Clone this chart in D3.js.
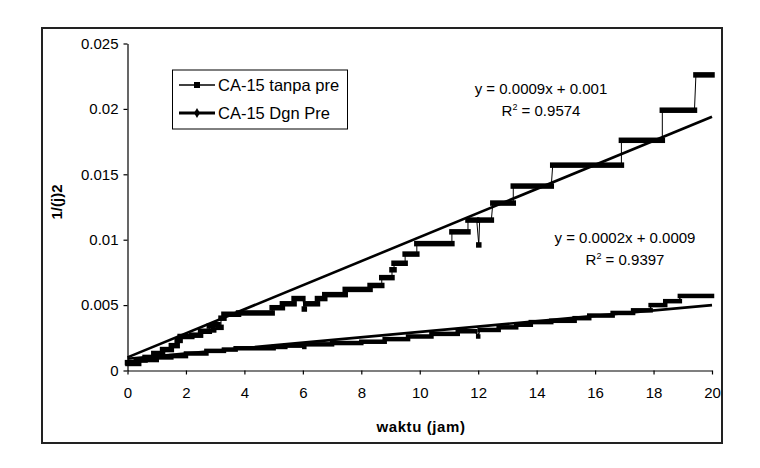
<!DOCTYPE html>
<html>
<head>
<meta charset="utf-8">
<script src="https://cdn.jsdelivr.net/npm/d3@7/dist/d3.min.js"></script>
<style>
  html, body { margin: 0; padding: 0; background: #fff; }
  svg { display: block; font-family: "Liberation Sans", Arial, sans-serif; }
</style>
</head>
<body>
<svg id="chart" width="760" height="468"></svg>
<script>
// ---- data ----
const seriesNames = ["CA-15 tanpa pre", "CA-15 Dgn Pre"];
const xTicks = [0, 2, 4, 6, 8, 10, 12, 14, 16, 18, 20];
const yTicks = [0, 0.005, 0.01, 0.015, 0.02, 0.025];
const yTickLabels = ["0", "0.005", "0.01", "0.015", "0.02", "0.025"];
// step runs of dense points: [x start, x end, value]
const tanpaSteps = [
  [0, 0.3, 0.0006], [0.3, 0.6, 0.0008], [0.6, 0.9, 0.0010], [0.9, 1.2, 0.0013],
  [1.2, 1.5, 0.0016], [1.5, 1.7, 0.0019], [1.7, 1.8, 0.0023], [1.8, 2.2, 0.0026],
  [2.2, 2.5, 0.0027], [2.5, 2.8, 0.0030], [2.8, 2.9, 0.0034], [2.95, 2.95, 0.0031],
  [3.0, 3.1, 0.0035], [3.1, 3.2, 0.0033], [3.2, 3.3, 0.0040], [3.3, 3.8, 0.0043],
  [3.8, 4.95, 0.0044], [4.95, 5.3, 0.0048], [5.3, 5.7, 0.0051], [5.7, 6.0, 0.0055],
  [6.05, 6.05, 0.0047], [6.1, 6.5, 0.0051], [6.5, 6.75, 0.0055], [6.75, 7.45, 0.0058],
  [7.45, 8.3, 0.0062], [8.3, 8.7, 0.0065], [8.7, 9.05, 0.0071], [9.05, 9.12, 0.0077],
  [9.12, 9.5, 0.0082], [9.5, 9.9, 0.0089], [9.9, 11.1, 0.0097], [11.1, 11.65, 0.0106],
  [11.65, 11.95, 0.0115], [12.02, 12.02, 0.0096], [12.05, 12.45, 0.0115],
  [12.5, 13.2, 0.0128], [13.2, 14.5, 0.0141], [14.55, 16.9, 0.0157],
  [16.9, 18.3, 0.0176], [18.3, 19.4, 0.0199], [19.45, 20, 0.0226]
];
const dgnSteps = [
  [0, 0.4, 0.0005], [0.4, 1.0, 0.0008], [1.0, 1.5, 0.0010], [1.5, 2.0, 0.0011],
  [2.0, 2.7, 0.0013], [2.7, 3.3, 0.0015], [3.3, 3.7, 0.0016], [3.7, 5.0, 0.0017],
  [5.0, 5.4, 0.0018], [5.4, 6.0, 0.0019], [6.05, 6.05, 0.0018], [6.1, 7.0, 0.0020],
  [7.0, 8.0, 0.0021], [8.0, 8.8, 0.0022], [8.8, 9.6, 0.0024], [9.6, 10.4, 0.0026],
  [10.4, 11.3, 0.0028], [11.3, 11.9, 0.0030], [12.0, 12.0, 0.0026], [12.05, 12.7, 0.0031],
  [12.7, 13.3, 0.0033], [13.3, 13.8, 0.0035], [13.8, 14.5, 0.0037], [14.5, 15.3, 0.0038],
  [15.3, 15.8, 0.0040], [15.8, 16.6, 0.0042], [16.6, 17.3, 0.0044], [17.3, 17.9, 0.0046],
  [17.9, 18.4, 0.0050], [18.4, 18.9, 0.0053], [18.9, 20, 0.0057]
];
// linear trend lines [slope, intercept] and their labels
const trendSlopes = [0.00092, 0.000205];
const trendIntercepts = [0.0010, 0.0009];
const trendEquations = ["y = 0.0009x + 0.001", "y = 0.0002x + 0.0009"];
const trendR2 = ["0.9574", "0.9397"];

// ---- drawing ----
const svg = d3.select("#chart");
const x = d3.scaleLinear().domain([0, 20]).range([127.5, 712]);
const y = d3.scaleLinear().domain([0, 0.025]).range([370.5, 43.5]);

// outer frame
svg.append("rect").attr("x", 42).attr("y", 28).attr("width", 680).attr("height", 415)
  .attr("fill", "#fff").attr("stroke", "#222").attr("stroke-width", 2);

// axes
const gx = svg.append("g").attr("transform", `translate(0,${y(0)})`)
  .call(d3.axisBottom(x).tickValues(xTicks).tickSize(4).tickSizeOuter(0).tickPadding(13).tickFormat(d3.format("d")));
const gy = svg.append("g").attr("transform", `translate(${x(0)},0)`)
  .call(d3.axisLeft(y).tickValues(yTicks).tickSize(4).tickSizeOuter(0).tickPadding(5)
    .tickFormat((d, i) => yTickLabels[i]));
[gx, gy].forEach(g => {
  g.select(".domain").attr("stroke", "#000").attr("stroke-width", 1.2);
  g.selectAll(".tick line").attr("stroke", "#000").attr("stroke-width", 1.2);
  g.selectAll(".tick text").attr("fill", "#000").attr("font-size", 15)
    .attr("font-family", "'Liberation Sans', Arial, sans-serif");
});

// series as connected dense markers
function drawSeries(steps, barH, lineW) {
  const pts = [];
  steps.forEach(s => { pts.push([s[0], s[2]]); pts.push([s[1], s[2]]); });
  svg.append("path").datum(pts)
    .attr("d", d3.line().x(d => x(d[0])).y(d => y(d[1])))
    .attr("fill", "none").attr("stroke", "#000").attr("stroke-width", lineW);
  svg.append("g").selectAll("rect").data(steps).join("rect")
    .attr("x", d => x(d[0]) - barH / 2)
    .attr("y", d => y(d[2]) - barH / 2)
    .attr("width", d => x(d[1]) - x(d[0]) + barH)
    .attr("height", barH)
    .attr("fill", "#000");
}
drawSeries(dgnSteps, 4.5, 1.5);
drawSeries(tanpaSteps, 5.5, 1);

// trend lines
trendSlopes.forEach((m, i) => {
  const b = trendIntercepts[i];
  svg.append("line")
    .attr("x1", x(0)).attr("y1", y(b))
    .attr("x2", x(20)).attr("y2", y(b + m * 20))
    .attr("stroke", "#000").attr("stroke-width", 2.6);
});

// trend equations
const eqPos = [[541, 89], [625, 238]];
trendEquations.forEach((t, i) => {
  const g = svg.append("g").attr("font-size", 15).attr("fill", "#000").attr("text-anchor", "middle");
  g.append("text").attr("x", eqPos[i][0]).attr("y", eqPos[i][1] + 5).text(t);
  const r = g.append("text").attr("x", eqPos[i][0]).attr("y", eqPos[i][1] + 27);
  r.append("tspan").text("R");
  r.append("tspan").attr("font-size", 9).attr("dy", -6).text("2");
  r.append("tspan").attr("dy", 6).text(" = " + trendR2[i]);
});

// axis titles
svg.append("text").attr("x", 421).attr("y", 432).attr("text-anchor", "middle")
  .attr("font-size", 15).attr("font-weight", "bold").attr("letter-spacing", 0.6).text("waktu (jam)");
svg.append("text").attr("transform", "translate(62,202) rotate(-90)").attr("text-anchor", "middle")
  .attr("font-size", 15).attr("font-weight", "bold").text("1/(j)2");

// legend
const lg = svg.append("g");
lg.append("rect").attr("x", 172.5).attr("y", 70).attr("width", 175).attr("height", 59)
  .attr("fill", "#fff").attr("stroke", "#000").attr("stroke-width", 1);
const lgY = [85, 113];
seriesNames.forEach((n, i) => {
  lg.append("line").attr("x1", 179).attr("x2", 215).attr("y1", lgY[i]).attr("y2", lgY[i])
    .attr("stroke", "#000").attr("stroke-width", i === 0 ? 1.5 : 3);
  if (i === 0) {
    lg.append("rect").attr("x", 194).attr("y", lgY[i] - 3).attr("width", 6).attr("height", 6).attr("fill", "#000");
  } else {
    lg.append("path").attr("d", d3.symbol(d3.symbolDiamond, 30)())
      .attr("transform", `translate(197,${lgY[i]})`).attr("fill", "#000");
  }
  lg.append("text").attr("x", 218).attr("y", lgY[i] + 6).attr("font-size", 16.5).attr("fill", "#000").text(n);
});
</script>
</body>
</html>
